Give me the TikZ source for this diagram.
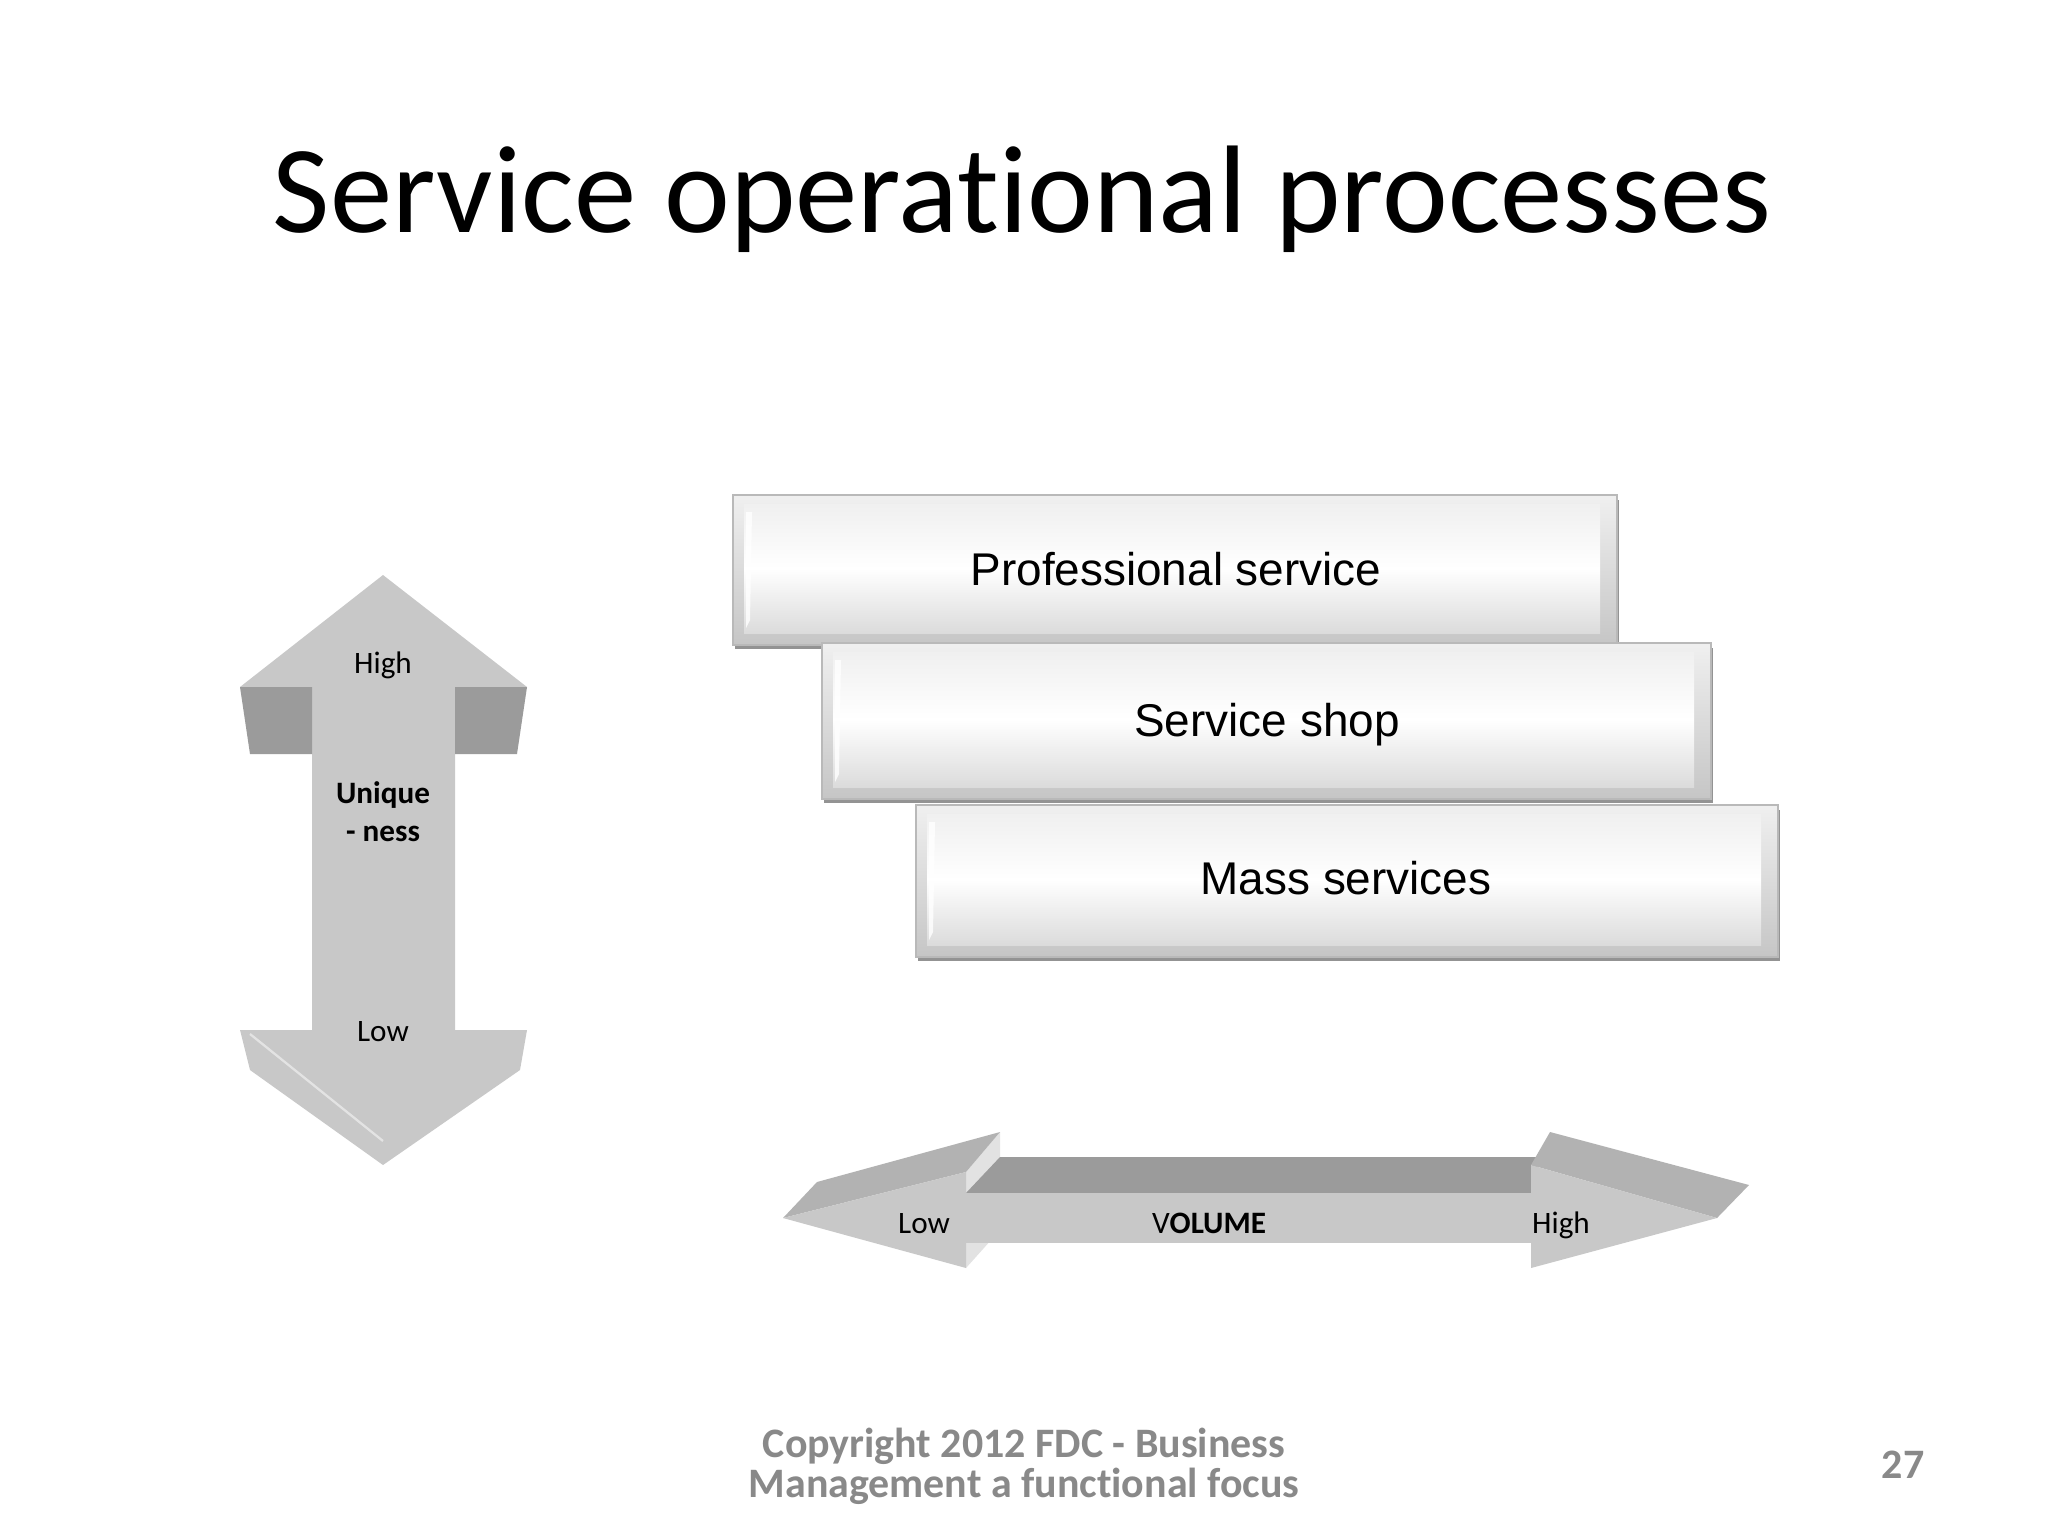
\documentclass[tikz,border=0pt]{standalone}
\usepackage{fontspec}
\setmainfont[Ligatures=NoCommon]{Carlito}
\newfontfamily\arialfont{Liberation Sans}
\usetikzlibrary{positioning}

\definecolor{arrowgray}{HTML}{C8C8C8}
\definecolor{darkface}{HTML}{9B9B9B}
\definecolor{midface}{HTML}{B2B2B2}
\definecolor{lightface}{HTML}{E2E2E2}
\definecolor{footgray}{HTML}{898989}

\begin{document}
\begin{tikzpicture}[x=0.0124cm, y=-0.0124cm,
		lbl/.style={font=\fontsize{11}{13}\selectfont, inner sep=0pt, anchor=base},
		boxtxt/.style={font=\arialfont\fontsize{16.2}{19}\selectfont, inner sep=0pt, anchor=base},
		foot/.style={font=\bfseries\fontsize{14.8}{16}\selectfont, text=footgray, inner sep=0pt, anchor=base},
		boxshadow/.style={fill=gray!85},
		boxouter/.style={draw=gray!55, line width=0.6pt, top color=gray!12, bottom color=gray!45},
		boxface/.style={top color=gray!12, bottom color=gray!28, middle color=white},
		boxlight/.style={fill=white, opacity=0.8},
]
\useasboundingbox (0,0) rectangle (2048,1536);
\fill[white] (0,0) rectangle (2048,1536);

\node[inner sep=0pt, anchor=base] (title) at (1022,232) {\fontsize{44}{50}\selectfont Service operational processes};

% uniqueness arrow
\fill[arrowgray] (383,575) -- (527,687) -- (455,687) -- (455,1030) -- (527,1030) -- (520,1070) -- (383,1165) -- (250,1070) -- (240,1030) -- (312,1030) -- (312,687) -- (240,687) -- cycle;
\fill[darkface] (240,687) -- (312,687) -- (312,754) -- (250,754) -- cycle;
\fill[darkface] (455,687) -- (527,687) -- (517,754) -- (455,754) -- cycle;
\draw[white, opacity=0.5, line width=0.8pt] (250,1034) -- (383,1141);

\node[lbl] (uhigh) at (383,673) {High};
\node[lbl, font=\bfseries\fontsize{11}{13}\selectfont] (uniq) at (383,803) {Unique};
\node[lbl, font=\bfseries\fontsize{11}{13}\selectfont] (ness) at (383,841) {- ness};
\node[lbl] (ulow) at (383,1041) {Low};

% volume arrow
\fill[lightface] (966,1172) -- (1000,1132) -- (1000,1230) -- (966,1268) -- cycle;
\fill[midface] (783,1218) -- (817,1182) -- (1000,1132) -- (966,1172) -- cycle;
\fill[arrowgray] (783,1218) -- (966,1172) -- (966,1268) -- cycle;
\fill[darkface] (966,1193) -- (1000,1157) -- (1540,1157) -- (1531,1193) -- cycle;
\fill[arrowgray] (966,1193) rectangle (1531,1243);
\fill[midface] (1531,1165) -- (1550,1132) -- (1749,1185) -- (1717,1218) -- cycle;
\fill[arrowgray] (1531,1165) -- (1717,1218) -- (1531,1268) -- cycle;

\node[lbl] (vlow) at (924,1233) {Low};
\node[lbl] (vol) at (1209,1233) {V\textbf{OLUME}};
\node[lbl] (vhigh) at (1561,1233) {High};

% service boxes
\fill[boxshadow] (735,500) rectangle (1619,649);
\draw[boxouter] (733,495) rectangle (1617,645);
\fill[boxface] (744,504) rectangle (1600,633);
\fill[boxlight] (746,512) -- (752,512) -- (750,620) -- (746,628) -- cycle;

\fill[boxshadow] (824,648) rectangle (1713,803);
\draw[boxouter] (822,643) rectangle (1711,799);
\fill[boxface] (833,652) rectangle (1694,787);
\fill[boxlight] (835,660) -- (841,660) -- (839,774) -- (835,782) -- cycle;

\fill[boxshadow] (918,810) rectangle (1780,961);
\draw[boxouter] (916,805) rectangle (1778,957);
\fill[boxface] (927,814) rectangle (1761,945);
\fill[boxlight] (929,822) -- (935,822) -- (933,932) -- (929,940) -- cycle;

\node[boxtxt] (prof) at (1176,585) {Professional service};
\node[boxtxt] (shop) at (1267,736) {Service shop};
\node[boxtxt] (mass) at (1346,894) {Mass services};

\node[foot] (copy) at (1024,1457) {Copyright 2012 FDC - Business};
\node[foot] (mgmt) at (1024,1497) {Management a functional focus};
\node[foot] (page) at (1903,1478) {27};

\end{tikzpicture}
\end{document}
